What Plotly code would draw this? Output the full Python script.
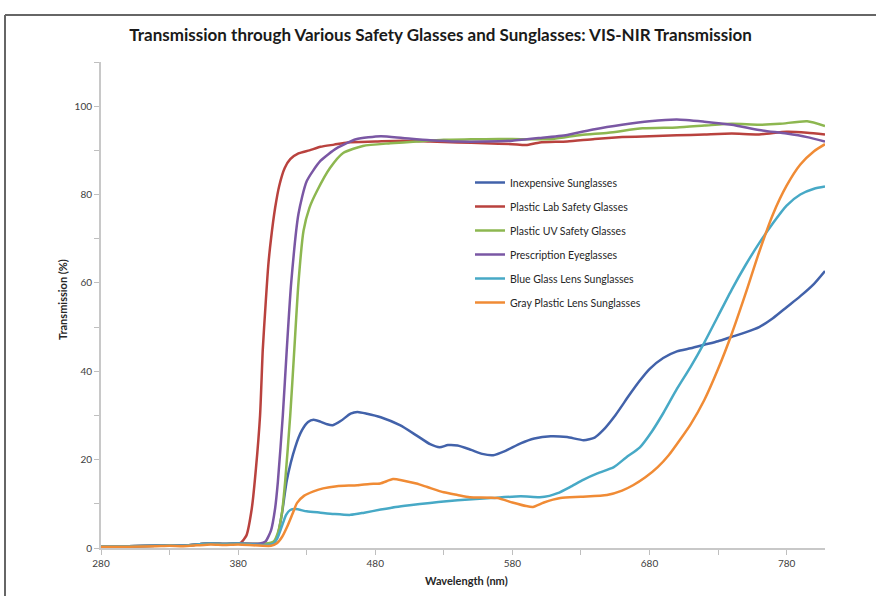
import plotly.graph_objects as go

# ---------------- data ----------------
base_wl = [280, 300, 320, 330, 340, 350, 360, 370, 380]
base_val = [0.4, 0.4, 0.5, 0.6, 0.5, 0.8, 1.0, 0.9, 1.0]

red_wl = base_wl + [382, 386, 390, 393, 396, 398, 400, 402, 404, 407, 410, 414, 418, 424, 432, 440,
                    450, 460, 480, 500, 520, 540, 560, 580, 590, 600, 620, 640, 660, 680, 700, 720,
                    740, 760, 780, 795, 808]
red_val = base_val + [1.2, 2.8, 9, 18, 30, 45, 55, 64, 70, 77, 82, 86, 88, 89.3, 90, 90.8,
                      91.3, 91.8, 92, 92.2, 92, 91.8, 91.6, 91.4, 91.2, 91.8, 92, 92.6, 93, 93.2, 93.4, 93.6,
                      93.8, 93.6, 94.2, 94, 93.6]

purple_wl = base_wl + [396, 400, 404, 407, 409, 412.6, 415.5, 418.7, 424, 430, 440, 452, 466, 484,
                       500, 520, 540, 560, 580, 600, 620, 640, 660, 680, 700, 720, 740, 760, 780, 795, 808]
purple_val = base_val + [1.0, 1.5, 4, 9, 15, 30, 45, 60, 75.6, 83, 87.6, 90.5, 92.5, 93.2,
                         92.8, 92.3, 92, 92, 92.2, 92.8, 93.5, 94.8, 95.8, 96.6, 97, 96.5, 95.8, 94.6, 93.8, 93, 92]

green_wl = base_wl + [400, 406, 409, 412, 414.3, 418, 421, 424, 427.7, 432, 437.5, 447, 456.6, 471, 491,
                      510, 530, 550, 570, 590, 610, 630, 650, 675, 700, 720, 740, 760, 775, 795, 808]
green_val = base_val + [1.0, 1.5, 3.5, 8, 15, 30, 45, 60, 71.8, 77, 80.8, 86, 89.4, 91, 91.6,
                        92, 92.4, 92.5, 92.6, 92.5, 92.6, 93.5, 94, 95, 95.2, 95.6, 96, 95.8, 96, 96.6, 95.5]

blue_wl = base_wl + [400, 404, 408, 412, 415.5, 421.6, 426.5, 431, 435, 440, 445, 449, 455, 462, 467, 474,
                     484, 498, 510, 520, 527, 533, 540, 550, 558, 566, 575, 586, 596, 608, 620, 632, 640,
                     646, 655, 665, 673, 680, 690, 700, 710, 720, 730, 740, 750, 760, 770, 780, 790, 800, 808]
blue_val = base_val + [0.8, 1.0, 2, 7.9, 15.3, 22.8, 26.6, 28.5, 29, 28.6, 28, 27.8, 28.8, 30.4, 30.8, 30.4,
                       29.6, 27.8, 25.5, 23.5, 22.8, 23.3, 23.2, 22.2, 21.3, 21, 22, 23.7, 24.8, 25.3, 25.1, 24.4, 25,
                       26.6, 30, 34.5, 37.9, 40.5, 43, 44.5, 45.2, 46, 46.8, 47.8, 48.8, 50, 52, 54.5, 57, 59.8, 62.7]

cyan_wl = base_wl + [400, 406, 409, 412, 415, 418, 422, 430, 440, 450, 462, 472, 484, 495, 505, 520, 532,
                     548, 564, 586, 600, 607, 613, 622, 632, 642, 654, 663, 673, 682, 690, 700, 710, 720,
                     730, 740, 750, 760, 770, 780, 790, 800, 808]
cyan_val = base_val + [0.7, 1.0, 2.5, 5, 7.5, 8.6, 8.8, 8.3, 8, 7.7, 7.5, 8, 8.7, 9.3, 9.7, 10.2, 10.6,
                       11, 11.3, 11.7, 11.5, 11.8, 12.4, 13.8, 15.5, 16.9, 18.3, 20.5, 22.8, 26.5, 30.5, 36, 41, 46.5,
                       52.5, 58.5, 64, 69, 73.5, 77.5, 80, 81.3, 81.8]

orange_wl = base_wl + [404, 408, 412, 416, 420, 423, 428, 435, 442, 452, 467, 476, 483.6, 493, 500, 510,
                       518, 530, 540, 549, 569, 580, 590, 595, 603, 615, 630, 649, 660, 668, 677, 686, 694,
                       702, 710, 720, 730, 740, 750, 760, 770, 780, 790, 800, 808]
orange_val = [0.3, 0.3, 0.4, 0.5, 0.4, 0.6, 0.8, 0.7, 0.8] + [0.5, 1.0, 2.5, 5, 8, 10.2, 11.8, 12.8, 13.5, 14, 14.2, 14.5, 14.6, 15.6, 15.3, 14.6,
                        13.8, 12.6, 12, 11.5, 11.3, 10.3, 9.5, 9.3, 10.3, 11.3, 11.6, 12, 13, 14.2, 16, 18.3, 21,
                        24.4, 28, 33.5, 40.5, 48.5, 57.5, 67, 75.5, 82, 86.8, 89.8, 91.4]

series = [
    ("Inexpensive Sunglasses", blue_wl, blue_val, "#4262AA"),
    ("Plastic Lab Safety Glasses", red_wl, red_val, "#B9423E"),
    ("Plastic UV Safety Glasses", green_wl, green_val, "#8DB750"),
    ("Prescription Eyeglasses", purple_wl, purple_val, "#7A57A4"),
    ("Blue Glass Lens Sunglasses", cyan_wl, cyan_val, "#47A9C6"),
    ("Gray Plastic Lens Sunglasses", orange_wl, orange_val, "#F08B35"),
]

x_ticks = [280, 380, 480, 580, 680, 780]
y_ticks = [0, 20, 40, 60, 80, 100]

# ---------------- figure ----------------
fig = go.Figure()
for i, (name, xs, ys, col) in enumerate(series):
    fig.add_trace(go.Scatter(x=xs, y=ys, mode="lines", name=name, legendgroup=str(i),
                             line=dict(color=col, width=2.5, shape="spline", smoothing=0.6)))

W, H = 876, 596
L, R, T, B = 101, 51, 62, 48
pw, ph = W - L - R, H - T - B

def px_x(p):
    return (p - L) / pw

def px_y(p):
    return (H - B - p) / ph

fig.update_layout(
    width=W, height=H,
    margin=dict(l=L, r=R, t=T, b=B),
    paper_bgcolor="white", plot_bgcolor="white",
    font=dict(family="Lato, Open Sans, sans-serif", color="#404040"),
    title=dict(text="<b>Transmission through Various Safety Glasses and Sunglasses: VIS-NIR Transmission</b>",
               x=0.503, xref="container", xanchor="center",
               y=1 - 35 / H, yref="container", yanchor="middle",
               font=dict(family="Lato, sans-serif", size=17, color="#1a1a1a")),
    showlegend=True,
    legend=dict(x=px_x(470), y=px_y(168), xanchor="left", yanchor="top",
                bgcolor="rgba(0,0,0,0)", font=dict(size=10.5, color="#262626"),
                tracegroupgap=5, itemwidth=30),
    xaxis=dict(range=[280, 808], tickvals=x_ticks, ticks="outside", ticklen=5, tickcolor="#BFBFBF",
               showgrid=False, zeroline=False, showline=True, linecolor="#C8C8C8", linewidth=2,
               tickfont=dict(size=10, color="#404040"),
               minor=dict(tickvals=[330, 430, 530, 630, 730], ticks="outside", ticklen=5, tickcolor="#BFBFBF")),
    yaxis=dict(range=[0, 110], tickvals=y_ticks, ticks="outside", ticklen=5, tickcolor="#BFBFBF",
               showgrid=False, zeroline=False, showline=True, linecolor="#C8C8C8", linewidth=2,
               tickfont=dict(size=10, color="#404040"),
               minor=dict(tickvals=[10, 30, 50, 70, 90, 110], ticks="outside", ticklen=5, tickcolor="#BFBFBF")),
    annotations=[
        dict(text="<b>Transmission (%)</b>", x=px_x(62), y=px_y(300), xref="paper", yref="paper",
             textangle=-90, showarrow=False, font=dict(size=11, color="#262626"),
             xanchor="center", yanchor="middle"),
        dict(text="<b>Wavelength (nm)</b>", x=px_x(466), y=px_y(580), xref="paper", yref="paper",
             showarrow=False, font=dict(size=11, color="#262626"),
             xanchor="center", yanchor="middle"),
    ],
    shapes=[
        dict(type="line", xref="paper", yref="paper", x0=px_x(5), x1=px_x(900), y0=px_y(15), y1=px_y(15),
             line=dict(color="#666666", width=2)),
        dict(type="line", xref="paper", yref="paper", x0=px_x(5), x1=px_x(5), y0=px_y(15), y1=px_y(620),
             line=dict(color="#666666", width=2)),
    ],
)

fig.write_html("out.html", config={"displayModeBar": False},
               post_script="document.body.style.margin='0';document.body.style.padding='0';")
